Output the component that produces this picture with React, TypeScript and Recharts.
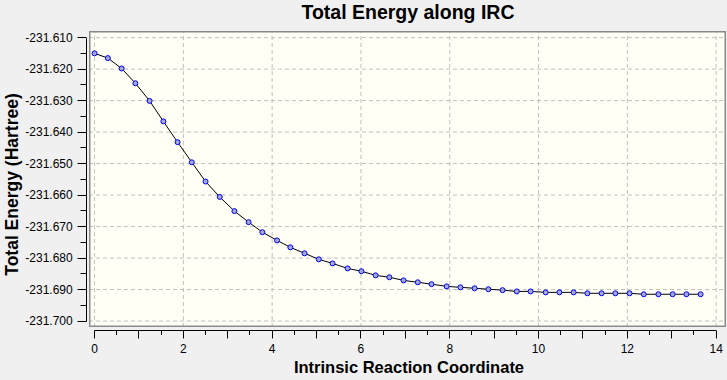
import React from 'react';
import { LineChart, Line, XAxis, YAxis, CartesianGrid, ReferenceLine } from 'recharts';

// ---- data ----
const IRC_X: number[] = [
  0, 0.3, 0.61, 0.92, 1.24, 1.55, 1.87, 2.19, 2.5, 2.82, 3.15, 3.47, 3.78, 4.11,
  4.41, 4.73, 5.05, 5.36, 5.7, 6.01, 6.33, 6.64, 6.96, 7.28, 7.59, 7.93, 8.24,
  8.56, 8.87, 9.19, 9.51, 9.82, 10.16, 10.47, 10.79, 11.1, 11.42, 11.73, 12.05,
  12.37, 12.7, 13.02, 13.33, 13.65,
];
const ENERGY: number[] = [
  -231.615, -231.6165, -231.6198, -231.6245, -231.6301, -231.6366, -231.6432,
  -231.6496, -231.6557, -231.6606, -231.6651, -231.6686, -231.6718, -231.6744,
  -231.6766, -231.6785, -231.6804, -231.6817, -231.6833, -231.6842, -231.6855,
  -231.6861, -231.6871, -231.6877, -231.6883, -231.689, -231.6893, -231.6896,
  -231.6899, -231.6902, -231.6906, -231.6906, -231.6909, -231.6909, -231.6909,
  -231.6912, -231.6912, -231.6912, -231.6912, -231.6915, -231.6915, -231.6915,
  -231.6915, -231.6915,
];
const X_LABEL_TICKS: number[] = [0, 2, 4, 6, 8, 10, 12, 14];
const X_TICKS: number[] = [
  0, 0.5, 1, 1.5, 2, 2.5, 3, 3.5, 4, 4.5, 5, 5.5, 6, 6.5, 7, 7.5, 8, 8.5, 9, 9.5,
  10, 10.5, 11, 11.5, 12, 12.5, 13, 13.5, 14,
];
const Y_MAJOR_TICKS: number[] = [
  -231.7, -231.69, -231.68, -231.67, -231.66, -231.65, -231.64, -231.63, -231.62, -231.61,
];
const Y_MINOR_TICKS: number[] = [
  -231.695, -231.685, -231.675, -231.665, -231.655, -231.645, -231.635, -231.625, -231.615,
];
const Y_TICKS: number[] = [...Y_MAJOR_TICKS, ...Y_MINOR_TICKS].sort((a, b) => a - b);

const TITLE = 'Total Energy along IRC';
const X_TITLE = 'Intrinsic Reaction Coordinate';
const Y_TITLE = 'Total Energy (Hartree)';

const DATA = IRC_X.map((x, i) => ({ x, e: ENERGY[i] }));

// ---- layout ----
const W = 727;
const H = 380;
const PLOT_LEFT = 89;
const PLOT_TOP = 31;
const PLOT_RIGHT = 726;
const PLOT_BOTTOM = 327;
const X_MIN = -0.125;
const X_MAX = 14.222;
const Y_MIN = -231.7019;
const Y_MAX = -231.6079;
const PX_PER_X = (PLOT_RIGHT - PLOT_LEFT) / (X_MAX - X_MIN);
const PX_PER_Y = (PLOT_BOTTOM - PLOT_TOP) / (Y_MAX - Y_MIN);

const FONT = '"Liberation Sans", Arial, sans-serif';

const XTick = (props: any) => {
  const { x, y, payload, index } = props;
  const v = payload.value as number;
  const cx = Math.floor(x) + 0.5;
  const axisY = y + 3.5;
  const long = Number.isInteger(v);
  const axisLen = (X_TICKS[X_TICKS.length - 1] - X_TICKS[0]) * PX_PER_X;
  return (
    <g>
      {index === 0 && (
        <line x1={cx} x2={cx + axisLen} y1={axisY} y2={axisY} stroke="#000" strokeWidth={1} />
      )}
      <line x1={cx} x2={cx} y1={axisY} y2={axisY + (long ? 8 : 4.5)} stroke="#000" strokeWidth={1} />
      {X_LABEL_TICKS.includes(v) && (
        <text x={x} y={y + 25.7} textAnchor="middle" fontFamily={FONT} fontSize={12} fill="#000">
          {v}
        </text>
      )}
    </g>
  );
};

const YTick = (props: any) => {
  const { x, y, payload, index } = props;
  const v = payload.value as number;
  const cy = Math.floor(y) + 0.5;
  const axisX = x - 2.5;
  const major = Y_MAJOR_TICKS.includes(v);
  const axisLen =
    (Y_MAJOR_TICKS[Y_MAJOR_TICKS.length - 1] - Y_MAJOR_TICKS[0]) * PX_PER_Y;
  return (
    <g>
      {index === 0 && (
        <line x1={axisX} x2={axisX} y1={cy} y2={cy - axisLen} stroke="#000" strokeWidth={1} />
      )}
      <line x1={axisX} x2={axisX - (major ? 9 : 6)} y1={cy} y2={cy} stroke="#000" strokeWidth={1} />
      {major && (
        <text x={x - 16.3} y={y + 4.3} textAnchor="end" fontFamily={FONT} fontSize={12} fill="#000">
          {v.toFixed(3)}
        </text>
      )}
    </g>
  );
};

export default function App() {
  return (
    <div style={{ position: 'relative', width: W, height: H, background: '#f0f0f0' }}>
      <style>{`body{margin:0;background:#f0f0f0}`}</style>
      <LineChart
        width={W}
        height={H}
        data={DATA}
        margin={{ top: PLOT_TOP, right: W - PLOT_RIGHT, bottom: 0, left: 0 }}
      >
        <CartesianGrid horizontal={false} vertical={false} fill="#fffff5" />
        {X_LABEL_TICKS.map((v) => (
          <ReferenceLine key={'gx' + v} x={v} stroke="#c0c0c0" strokeDasharray="4 3" strokeWidth={1} />
        ))}
        {Y_MAJOR_TICKS.map((v) => (
          <ReferenceLine key={'gy' + v} y={v} stroke="#c0c0c0" strokeDasharray="4 3" strokeWidth={1} />
        ))}
        <XAxis
          dataKey="x"
          type="number"
          domain={[X_MIN, X_MAX]}
          allowDataOverflow
          ticks={X_TICKS}
          interval={0}
          tick={XTick}
          tickLine={false}
          axisLine={false}
          tickSize={0}
          tickMargin={0}
          height={H - PLOT_BOTTOM}
        />
        <YAxis
          type="number"
          domain={[Y_MIN, Y_MAX]}
          allowDataOverflow
          ticks={Y_TICKS}
          interval={0}
          tick={YTick}
          tickLine={false}
          axisLine={false}
          tickSize={0}
          tickMargin={0}
          width={PLOT_LEFT}
        />
        <Line
          dataKey="e"
          type="linear"
          stroke="#000"
          strokeWidth={1}
          dot={{ r: 2.5, fill: '#a6a9cf', stroke: '#0000ff', strokeWidth: 1 }}
          isAnimationActive={false}
        />
      </LineChart>
      <svg
        width={W}
        height={H}
        style={{ position: 'absolute', left: 0, top: 0, pointerEvents: 'none' }}
      >
        <rect
          x={PLOT_LEFT + 0.75}
          y={PLOT_TOP + 0.75}
          width={PLOT_RIGHT - PLOT_LEFT - 1.5}
          height={PLOT_BOTTOM - PLOT_TOP - 1.5}
          fill="none"
          stroke="#8a8a8a"
          strokeWidth={1.5}
        />
        <text x={408} y={19} textAnchor="middle" fontFamily={FONT} fontWeight="bold" fontSize={19.5} fill="#000">
          {TITLE}
        </text>
        <text x={409} y={373.3} textAnchor="middle" fontFamily={FONT} fontWeight="bold" fontSize={16.5} fill="#000">
          {X_TITLE}
        </text>
        <text
          x={17.5}
          y={184.5}
          textAnchor="middle"
          fontFamily={FONT}
          fontWeight="bold"
          fontSize={17.5}
          fill="#000"
          transform="rotate(-90 17.5 184.5)"
        >
          {Y_TITLE}
        </text>
      </svg>
    </div>
  );
}
